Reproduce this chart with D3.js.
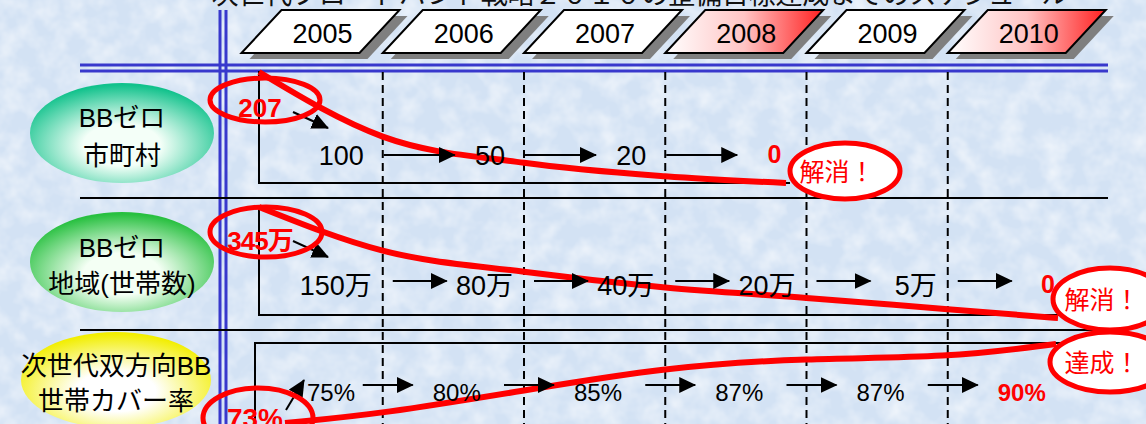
<!DOCTYPE html>
<html>
<head>
<meta charset="utf-8">
<script src="https://cdn.jsdelivr.net/npm/d3@7"></script>
<style>
  body { margin: 0; overflow: hidden; }
  svg { display: block; }
  text { font-family: 'Liberation Sans', 'Noto Sans CJK JP', sans-serif; }
</style>
</head>
<body>
<svg width="1146" height="424"></svg>
<script>
// chart data
var titleText = "次世代ブロードバンド戦略２０１０の整備目標達成までのスケジュール";
var years = ["2005", "2006", "2007", "2008", "2009", "2010"];
var highlightYears = ["2008", "2010"];
var rowNames = [["BBゼロ", "市町村"], ["BBゼロ", "地域(世帯数)"], ["次世代双方向BB", "世帯カバー率"]];
var zeroTowns = [207, 100, 50, 20, 0];                 // 市町村
var zeroHouseholds = [345, 150, 80, 40, 20, 5, 0];     // 万世帯
var coverageRate = [73, 75, 80, 85, 87, 87, 90];       // %
var callouts = ["解消！", "解消！", "達成！"];

var svg, defs, x;
var W = 1146, H = 424;

document.addEventListener('DOMContentLoaded', function () {
  svg = d3.select('svg');
  defs = svg.append('defs');
  x = d3.scaleLinear().domain([0, 6]).range([241.5, 1089]);
  makeDefs();
  drawFrame();
  drawRow1();
  drawRow2();
  drawRow3();
});

function makeDefs() {
  var f = defs.append('filter').attr('id', 'noise').attr('x', 0).attr('y', 0).attr('width', '100%').attr('height', '100%');
  f.append('feTurbulence').attr('type', 'fractalNoise').attr('baseFrequency', 0.045).attr('numOctaves', 3).attr('seed', 7);
  f.append('feColorMatrix').attr('type', 'matrix')
    .attr('values', '0 0 0 0 1  0 0 0 0 1  0 0 0 0 1  1.1 0 0 0 -0.4');

  var red = defs.append('linearGradient').attr('id', 'redgrad');
  red.append('stop').attr('offset', '0%').attr('stop-color', '#ffffff');
  red.append('stop').attr('offset', '50%').attr('stop-color', '#ffc4c4');
  red.append('stop').attr('offset', '100%').attr('stop-color', '#ff2020');

  var cols = [['#f4fff8', '#12c28c'], ['#f4fff4', '#28c040'], ['#ffffff', '#f2ee00']];
  cols.forEach(function (c, i) {
    var g = defs.append('radialGradient').attr('id', 'lab' + i).attr('cx', '50%').attr('cy', '62%').attr('r', '60%');
    g.append('stop').attr('offset', '0%').attr('stop-color', c[0]);
    g.append('stop').attr('offset', '35%').attr('stop-color', c[0]);
    g.append('stop').attr('offset', '100%').attr('stop-color', c[1]);
  });

  defs.append('marker').attr('id', 'arrow')
    .attr('markerUnits', 'userSpaceOnUse')
    .attr('markerWidth', 17).attr('markerHeight', 16)
    .attr('refX', 16).attr('refY', 8).attr('orient', 'auto')
    .append('path').attr('d', 'M0,0 L17,8 L0,16 Z').attr('fill', '#000');
}

function drawFrame() {
  svg.append('rect').attr('width', W).attr('height', H).attr('fill', '#d3e2f4');
  svg.append('rect').attr('width', W).attr('height', H).attr('filter', 'url(#noise)');

  // title (cut by the top edge)
  svg.append('text').attr('x', 640).attr('y', 4).attr('text-anchor', 'middle')
    .attr('font-size', 27).attr('fill', '#111').attr('textLength', 857).text(titleText);

  // blue double rules
  [65, 71].forEach(function (y) {
    svg.append('line').attr('x1', 80).attr('x2', 1108).attr('y1', y).attr('y2', y)
      .attr('stroke', '#3838cc').attr('stroke-width', 3);
  });
  [220, 226].forEach(function (xx) {
    svg.append('line').attr('x1', xx).attr('x2', xx).attr('y1', 10).attr('y2', H)
      .attr('stroke', '#3838cc').attr('stroke-width', 3);
  });

  // year tabs
  var tab = svg.selectAll('.tab').data(years).enter().append('g').attr('class', 'tab');
  var shape = function (d, i) {
    var b = x(i);
    return [[b, 53], [b + 40, 10], [b + 158, 10], [b + 118, 53]].map(function (p) { return p.join(','); }).join(' ');
  };
  tab.append('polygon').attr('points', shape).attr('transform', 'translate(8,6)').attr('fill', '#7f7f7f');
  tab.append('polygon').attr('points', shape)
    .attr('fill', function (d) { return highlightYears.indexOf(d) >= 0 ? 'url(#redgrad)' : '#fff'; })
    .attr('stroke', '#000').attr('stroke-width', 2);
  tab.append('text').attr('x', function (d, i) { return x(i) + 81; }).attr('y', 34)
    .attr('dominant-baseline', 'central').attr('text-anchor', 'middle')
    .attr('font-size', 27).text(function (d) { return d; });

  // dashed year boundaries
  svg.selectAll('.dash').data(d3.range(1, 6)).enter().append('line')
    .attr('x1', x).attr('x2', x).attr('y1', 72).attr('y2', H)
    .attr('stroke', '#000').attr('stroke-width', 2).attr('stroke-dasharray', '8,5');

  // row separators
  [198, 330].forEach(function (y) {
    svg.append('line').attr('x1', 80).attr('x2', 1108).attr('y1', y).attr('y2', y)
      .attr('stroke', '#000').attr('stroke-width', 2);
  });
  // row brackets
  svg.append('path').attr('d', 'M259,71 V183 H790').attr('fill', 'none').attr('stroke', '#000').attr('stroke-width', 2);
  svg.append('path').attr('d', 'M259,205 V315 H1100').attr('fill', 'none').attr('stroke', '#000').attr('stroke-width', 2);
  svg.append('path').attr('d', 'M255,424 V343 H1100').attr('fill', 'none').attr('stroke', '#000').attr('stroke-width', 2);

  // row label ovals
  var ov = [[122, 133, 92, 50], [122, 262, 92, 50], [116, 380, 95, 48]];
  var ty = [[118, 156], [248, 284], [366, 401]];
  rowNames.forEach(function (names, i) {
    svg.append('ellipse').attr('cx', ov[i][0]).attr('cy', ov[i][1]).attr('rx', ov[i][2]).attr('ry', ov[i][3])
      .attr('fill', 'url(#lab' + i + ')');
    names.forEach(function (t, j) {
      svg.append('text').attr('x', ov[i][0]).attr('y', ty[i][j]).attr('text-anchor', 'middle')
        .attr('dominant-baseline', 'central').attr('font-size', 26).text(t);
    });
  });
}

function arrow(x1, y1, x2, y2) {
  svg.append('line').attr('x1', x1).attr('y1', y1).attr('x2', x2).attr('y2', y2)
    .attr('stroke', '#000').attr('stroke-width', 2).attr('marker-end', 'url(#arrow)');
}

function redCurve(pts, curve) {
  svg.append('path').attr('d', d3.line().curve(curve || d3.curveMonotoneX)(pts))
    .attr('fill', 'none').attr('stroke', '#ff0000').attr('stroke-width', 6).attr('stroke-linejoin', 'round');
}

function redOval(cx, cy, rx, ry, fill) {
  svg.append('ellipse').attr('cx', cx).attr('cy', cy).attr('rx', rx).attr('ry', ry)
    .attr('fill', fill || 'none').attr('stroke', '#ff0000').attr('stroke-width', 5);
}

function callout(cx, cy, rx, ry, t) {
  redOval(cx, cy, rx, ry, '#fff');
  svg.append('text').attr('x', cx - 8).attr('y', cy + 1).attr('text-anchor', 'middle')
    .attr('dominant-baseline', 'central').attr('font-size', 25).attr('fill', '#ff0000').text(t);
}

function drawRow1() {
  var y = d3.scalePow().exponent(1.2).domain([0, 207]).range([183, 72]);
  var n = zeroTowns.length;
  var pts = zeroTowns.map(function (v, i) {
    var xx = i === 0 ? 259 : (i === n - 1 ? 786 : x(i));
    return [xx, y(v)];
  });
  redCurve(pts);
  for (var i = 1; i < n - 1; i++) arrow(x(i) + 1, 155, x(i) + 72, 155);
  arrow(293, 112, 328, 128);
  zeroTowns.forEach(function (v, i) {
    if (i === 0) return;
    var last = i === n - 1;
    svg.append('text').attr('x', x(i) - (last ? 25 : 19)).attr('y', last ? 163 : 165).attr('text-anchor', 'end')
      .attr('font-size', last ? 25 : 27).attr('font-weight', last ? 'bold' : 'normal')
      .attr('fill', last ? '#ff0000' : '#000').text(v);
  });
  redOval(265, 100, 55, 22);
  svg.append('text').attr('x', 260).attr('y', 117).attr('text-anchor', 'middle').attr('font-size', 26)
    .attr('font-weight', 'bold').attr('fill', '#ff0000').text(zeroTowns[0]);
  callout(845, 171, 55, 28, callouts[0]);
}

function drawRow2() {
  var y = d3.scalePow().exponent(0.6).domain([0, 345]).range([318, 207]);
  var n = zeroHouseholds.length;
  var pts = zeroHouseholds.map(function (v, i) {
    var xx = i === 0 ? 259 : (i === n - 1 ? 1058 : x(i));
    return [xx, y(v)];
  });
  redCurve(pts);
  for (var i = 1; i < n - 1; i++) arrow(x(i) + 10, 281, x(i) + 64, 281);
  arrow(293, 241, 328, 257);
  var lab = function (v) { return v === 0 ? '0' : v + '万'; };
  zeroHouseholds.forEach(function (v, i) {
    if (i === 0) return;
    var last = i === n - 1;
    svg.append('text').attr('x', x(i) - (last ? 34 : 11)).attr('y', last ? 293 : 295).attr('text-anchor', 'end')
      .attr('font-size', last ? 25 : 27).attr('font-weight', last ? 'bold' : 'normal')
      .attr('fill', last ? '#ff0000' : '#000').text(lab(v));
  });
  redOval(266, 232, 56, 25);
  svg.append('text').attr('x', 260).attr('y', 250).attr('text-anchor', 'middle').attr('font-size', 26)
    .attr('font-weight', 'bold').attr('fill', '#ff0000').attr('letter-spacing', -1).text(lab(zeroHouseholds[0]));
  callout(1110, 299, 57, 31, callouts[1]);
}

function drawRow3() {
  var y = d3.scaleLinear().domain([73, 90]).range([423, 344]);
  var n = coverageRate.length;
  var pts = coverageRate.map(function (v, i) {
    var xx = i === 0 ? 285 : (i === n - 1 ? 1056 : x(i));
    return [xx, y(v)];
  });
  redCurve(pts, d3.curveBasis);
  for (var i = 1; i < n - 1; i++) arrow(x(i) - 20, 385, x(i) + 30, 385);
  arrow(286, 410, 304, 380);
  coverageRate.forEach(function (v, i) {
    if (i === 0) return;
    var last = i === n - 1;
    svg.append('text').attr('x', i === 1 ? 307 : x(i - 1) + 50).attr('y', 401)
      .attr('font-size', 24).attr('font-weight', last ? 'bold' : 'normal')
      .attr('fill', last ? '#ff0000' : '#000').text(v + '%');
  });
  redOval(258, 418, 55, 30);
  svg.append('text').attr('x', 255).attr('y', 428).attr('text-anchor', 'middle').attr('font-size', 28)
    .attr('font-weight', 'bold').attr('fill', '#ff0000').text(coverageRate[0] + '%');
  callout(1110, 362, 60, 30, callouts[2]);
}
</script>
</body>
</html>
